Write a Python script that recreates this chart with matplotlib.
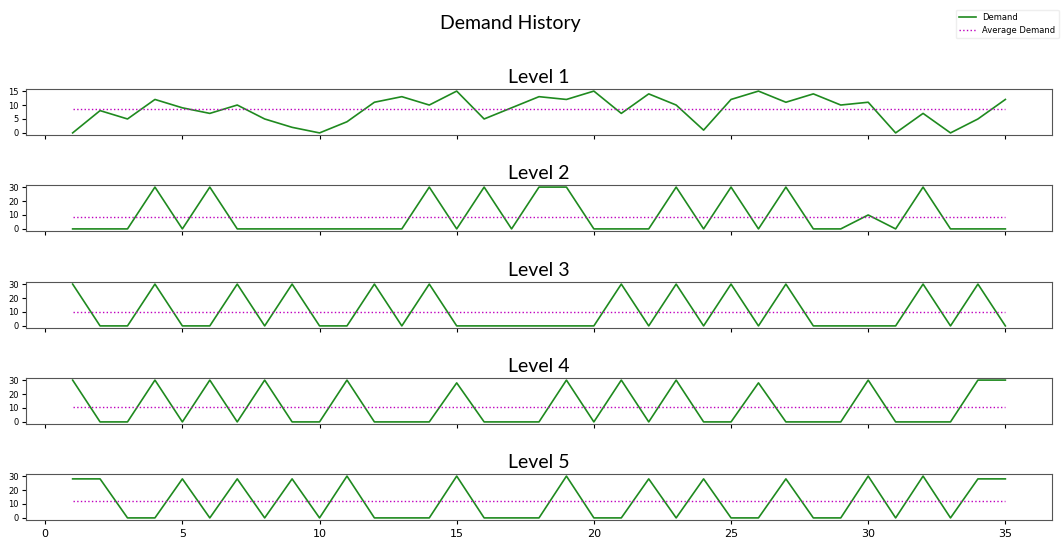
import numpy as np
import matplotlib
matplotlib.use("Agg")
import matplotlib.pyplot as plt

periods = list(range(1, 36))
level_names = ["Level 1", "Level 2", "Level 3", "Level 4", "Level 5"]

level1 = [0, 8, 5, 12, 9, 7, 10, 5, 2, 0, 4, 11, 13, 10, 15, 5, 9, 13, 12, 15,
          7, 14, 10, 1, 12, 15, 11, 14, 10, 11, 0, 7, 0, 5, 12]
level2 = [0, 0, 0, 30, 0, 30, 0, 0, 0, 0, 0, 0, 0, 30, 0, 30, 0, 30, 30, 0,
          0, 0, 30, 0, 30, 0, 30, 0, 0, 10, 0, 30, 0, 0, 0]
level3 = [30, 0, 0, 30, 0, 0, 30, 0, 30, 0, 0, 30, 0, 30, 0, 0, 0, 0, 0, 0,
          30, 0, 30, 0, 30, 0, 30, 0, 0, 0, 0, 30, 0, 30, 0]
level4 = [30, 0, 0, 30, 0, 30, 0, 30, 0, 0, 30, 0, 0, 0, 28, 0, 0, 0, 30, 0,
          30, 0, 30, 0, 0, 28, 0, 0, 0, 30, 0, 0, 0, 30, 30]
level5 = [28, 28, 0, 0, 28, 0, 28, 0, 28, 0, 30, 0, 0, 0, 30, 0, 0, 0, 30, 0,
          0, 28, 0, 28, 0, 0, 28, 0, 0, 30, 0, 30, 0, 28, 28]
levels = [level1, level2, level3, level4, level5]

fig = plt.figure(figsize=(10.63, 5.45), dpi=100)
W, H = 1063, 545
left, right = 26 / W, 1052 / W
ax_h = 46 / H
tops = [89, 185, 282, 378, 474]
axes = []
for i, (name, vals) in enumerate(zip(level_names, levels)):
    bottom = 1 - (tops[i] + 46) / H
    ax = fig.add_axes([left, bottom, right - left, ax_h],
                      sharex=axes[0] if axes else None)
    axes.append(ax)
    avg = np.mean(vals)
    ax.plot(periods, vals, color="#1f8a1f", lw=1.2, label="Demand")
    ax.plot(periods, [avg] * len(periods), color="m", ls=":", lw=1.0,
            label="Average Demand")
    ax.set_title(name, fontsize=14, family="Lato", pad=4)
    ax.tick_params(axis="y", labelsize=6, length=3, pad=2)
    ax.tick_params(axis="x", labelsize=8, length=3)
    if i < 4:
        ax.tick_params(axis="x", labelbottom=False)
    for s in ax.spines.values():
        s.set_color("#555555")

axes[0].set_yticks([0, 5, 10, 15])
for ax in axes[1:]:
    ax.set_yticks([0, 10, 20, 30])
axes[-1].set_xticks([0, 5, 10, 15, 20, 25, 30, 35])

fig.suptitle("Demand History", fontsize=14, family="Lato", x=0.48, y=0.972)
handles, labels = axes[0].get_legend_handles_labels()
fig.legend(handles, labels, loc="upper right", fontsize=6,
           bbox_to_anchor=(1.0, 0.99), framealpha=1, edgecolor="#eeeeee")

fig.savefig("out.png", dpi=100)
